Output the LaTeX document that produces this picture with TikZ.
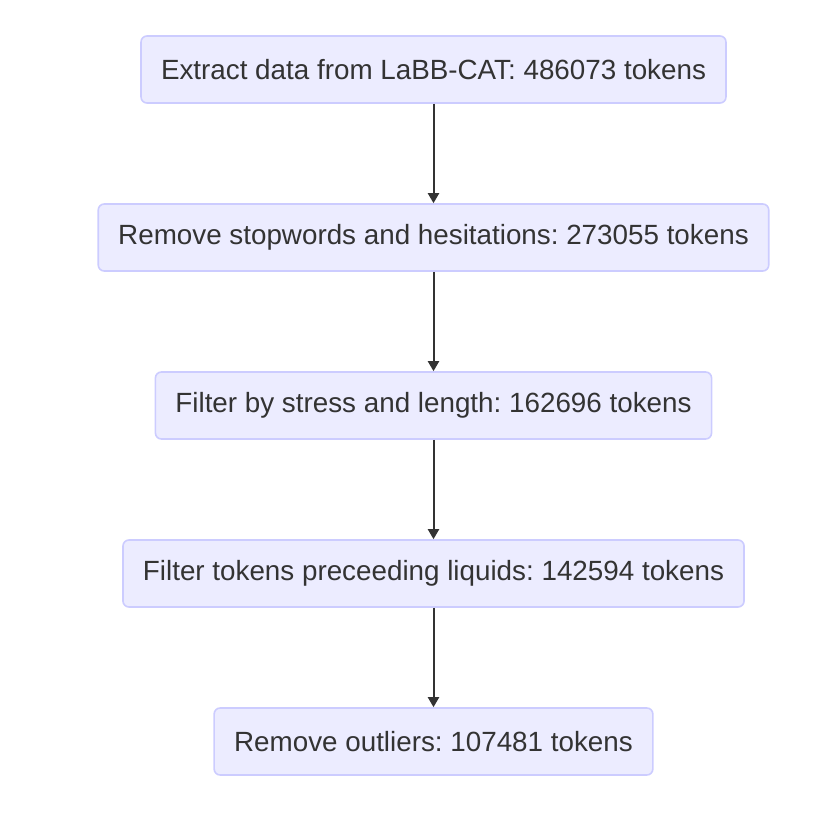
\documentclass[tikz,border=0pt]{standalone}
\usepackage{fontspec}
\setmainfont{Liberation Sans}
\usetikzlibrary{arrows.meta}
\definecolor{boxfill}{HTML}{ECECFF}
\definecolor{boxdraw}{HTML}{CCCCFF}
\definecolor{txt}{HTML}{333333}
\frenchspacing
\tikzset{
  stepbox/.style={draw=boxdraw, fill=boxfill, line width=1.6pt, rounded corners=6pt,
    minimum height=67pt, inner xsep=20pt, inner ysep=0pt, text=txt,
    font=\fontsize{27.8}{32}\selectfont},
  flow/.style={draw=txt, line width=2pt, -{Triangle[length=10pt,width=11pt]}}
}
\begin{document}
\begin{tikzpicture}[x=1pt,y=1pt]
\useasboundingbox (0,0) rectangle (838,-832);
\node[stepbox] (a) at (433.5,-69.5) {Extract data from LaBB-CAT: 486073 tokens};
\node[stepbox] (b) at (433.5,-237.5) {Remove stopwords and hesitations: 273055 tokens};
\node[stepbox] (c) at (433.5,-405.5) {Filter by stress and length: 162696 tokens};
\node[stepbox] (d) at (433.5,-573.5) {Filter tokens preceeding liquids: 142594 tokens};
\node[stepbox] (e) at (433.5,-741.5) {Remove outliers: 107481 tokens};
\draw[flow] (a) -- (b);
\draw[flow] (b) -- (c);
\draw[flow] (c) -- (d);
\draw[flow] (d) -- (e);
\end{tikzpicture}
\end{document}
